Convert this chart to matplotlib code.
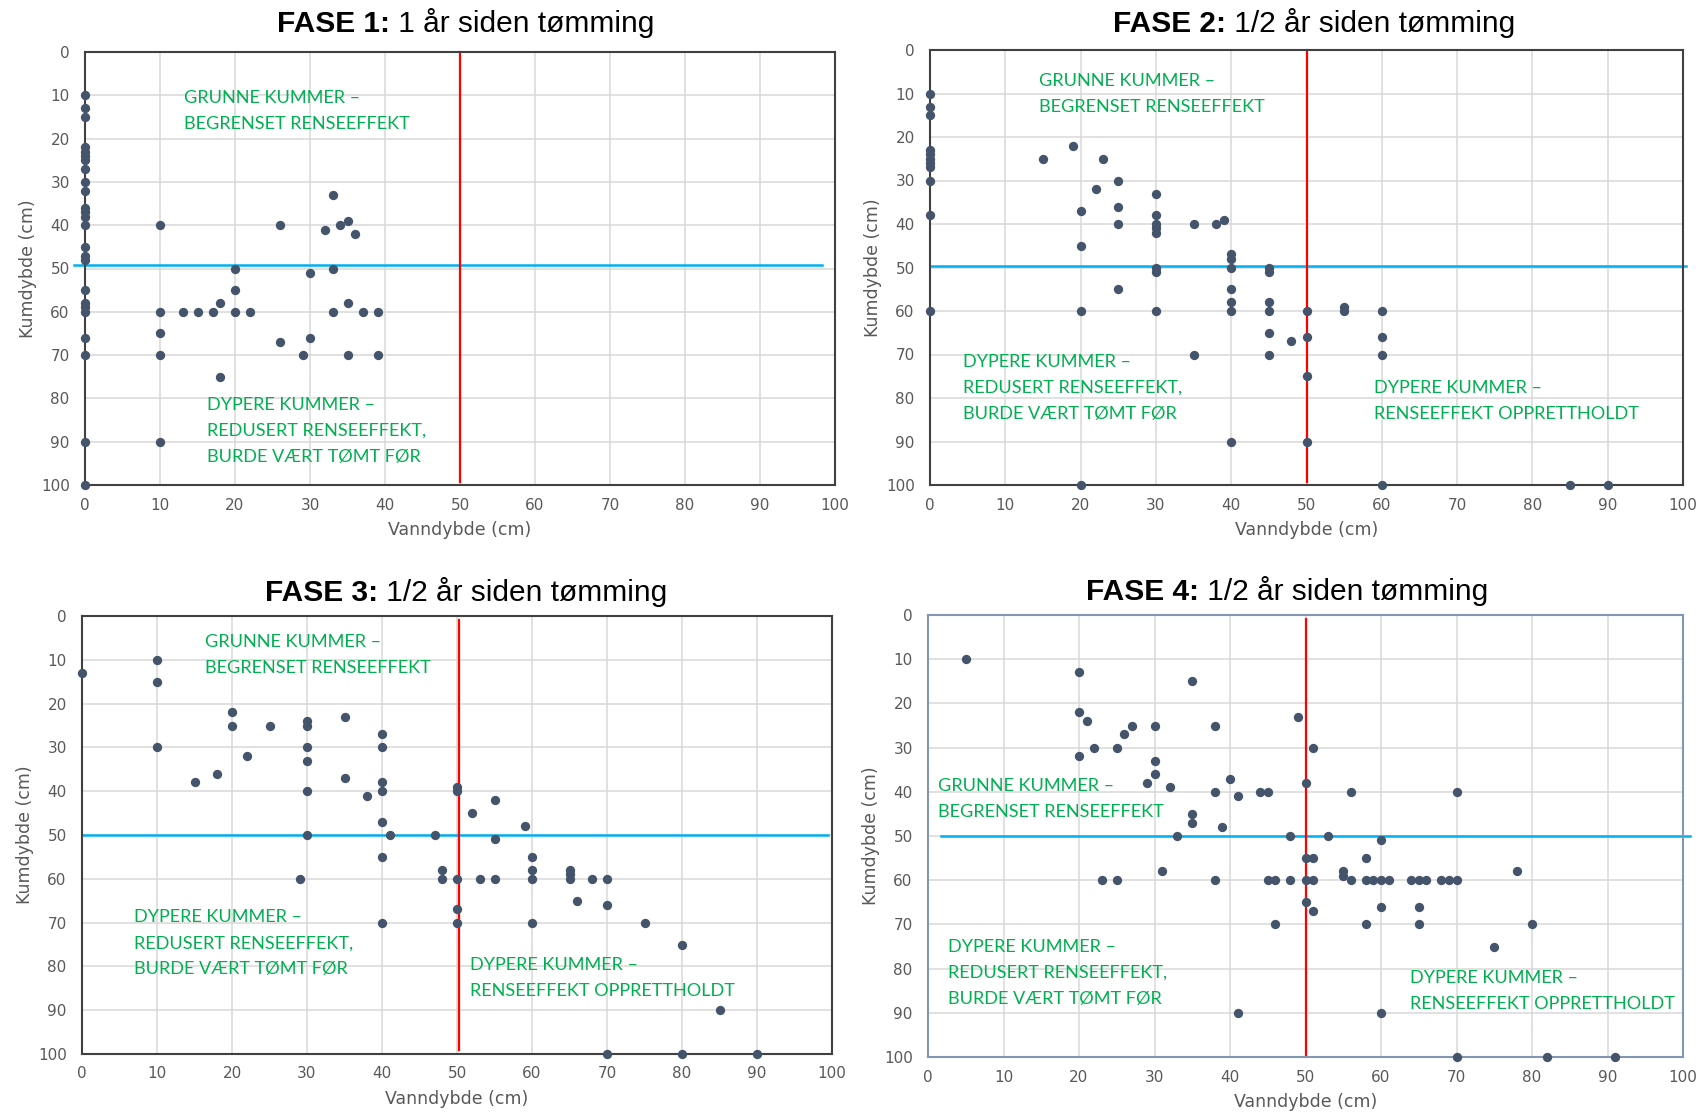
import matplotlib
matplotlib.use("Agg")
import matplotlib.pyplot as plt
from matplotlib.transforms import offset_copy

# ---------------- data ----------------
fase1_x = [0]*25 + [10, 10, 10, 10, 10, 13, 15, 17, 18, 18, 20, 20, 20, 22,
                    26, 26, 29, 30, 30, 32, 33, 33, 33, 34, 35, 35, 35, 36, 37, 39, 39]
fase1_y = [10, 13, 15, 22, 23, 24, 25, 27, 30, 32, 36, 37, 38, 40, 45, 47, 48, 55, 58, 59, 60, 66, 70, 90, 100,
           40, 60, 65, 70, 90, 60, 60, 60, 58, 75, 50, 55, 60, 60,
           40, 67, 70, 51, 66, 41, 33, 50, 60, 40, 39, 58, 70, 42, 60, 60, 70]

fase2_x = [0]*11 + [15, 19, 20, 20, 20, 20, 22, 23, 25, 25, 25, 25,
                    30, 30, 30, 30, 30, 30, 30, 30, 35, 35, 38, 39,
                    40, 40, 40, 40, 40, 40, 40, 45, 45, 45, 45, 45, 45,
                    48, 50, 50, 50, 50, 55, 55, 60, 60, 60, 60, 85, 90]
fase2_y = [10, 13, 15, 23, 24, 25, 26, 27, 30, 38, 60,
           25, 22, 37, 45, 60, 100, 32, 25, 30, 36, 40, 55,
           33, 38, 40, 41, 42, 50, 51, 60, 40, 70, 40, 39,
           47, 48, 50, 55, 58, 60, 90, 50, 51, 58, 60, 65, 70,
           67, 60, 66, 75, 90, 59, 60, 60, 66, 70, 100, 100, 100]

fase3_x = [0, 10, 10, 10, 15, 18, 20, 20, 22, 25, 29,
           30, 30, 30, 30, 30, 30, 35, 35, 38,
           40, 40, 40, 40, 40, 40, 40, 41, 47, 48, 48,
           50, 50, 50, 50, 50, 52, 53, 55, 55, 55, 59,
           60, 60, 60, 60, 65, 65, 65, 66, 68, 70, 70, 70,
           75, 80, 80, 85, 90]
fase3_y = [13, 10, 15, 30, 38, 36, 22, 25, 32, 25, 60,
           24, 25, 30, 33, 40, 50, 23, 37, 41,
           27, 30, 38, 40, 47, 55, 70, 50, 50, 58, 60,
           39, 40, 60, 67, 70, 45, 60, 42, 51, 60, 48,
           55, 58, 60, 70, 58, 59, 60, 65, 60, 60, 66, 100,
           70, 75, 100, 90, 100]

fase4_x = [5, 20, 20, 20, 21, 22, 23, 25, 25, 26, 27, 29,
           30, 30, 30, 31, 32, 33, 35, 35, 35, 38, 38, 38,
           39, 40, 41, 41, 44, 45, 45, 46, 46, 48, 48, 49,
           50, 50, 50, 50, 51, 51, 51, 51, 53, 55, 55, 56, 56,
           58, 58, 58, 59, 60, 60, 60, 60, 61, 64, 65, 65, 65, 66,
           68, 69, 70, 70, 70, 75, 78, 80, 82, 91]
fase4_y = [10, 13, 22, 32, 24, 30, 60, 30, 60, 27, 25, 38,
           25, 33, 36, 58, 39, 50, 15, 45, 47, 25, 40, 60,
           48, 37, 41, 90, 40, 40, 60, 60, 70, 50, 60, 23,
           38, 55, 60, 65, 30, 55, 60, 67, 50, 58, 59, 40, 60,
           55, 60, 70, 60, 51, 60, 66, 90, 60, 60, 60, 66, 70, 60,
           60, 60, 40, 60, 100, 75, 58, 70, 100, 100]

titles_bold = ["FASE 1:", "FASE 2:", "FASE 3:", "FASE 4:"]
titles_rest = ["1 år siden tømming", "1/2 år siden tømming",
               "1/2 år siden tømming", "1/2 år siden tømming"]

txt_grunne = ["GRUNNE KUMMER –", "BEGRENSET RENSEEFFEKT"]
txt_redusert = ["DYPERE KUMMER –", "REDUSERT RENSEEFFEKT,", "BURDE VÆRT TØMT FØR"]
txt_oppr = ["DYPERE KUMMER –", "RENSEEFFEKT OPPRETTHOLDT"]

ticks = [0, 10, 20, 30, 40, 50, 60, 70, 80, 90, 100]

# reference lines (blue horizontal: y, x0, x1 ; red vertical: x, y0, y1)
blue_lines = [(49.3, -1.5, 98.3), (49.7, 0, 100.4), (50, 0, 99.5), (49.9, 1.7, 100.9)]
red_lines = [(50, 0, 99.2), (50, 0, 99.2), (50.2, 1, 99), (50, 0.8, 100)]

# annotation positions (x, baseline of first line)
ann = [
    [(txt_grunne, 13.2, 11.8), (txt_redusert, 16.3, 82.7)],
    [(txt_grunne, 14.5, 8.3), (txt_redusert, 4.4, 72.9), (txt_oppr, 59, 78.8)],
    [(txt_grunne, 16.4, 7.1), (txt_redusert, 6.9, 69.9), (txt_oppr, 51.7, 80.8)],
    [(txt_grunne, 1.3, 39.8), (txt_redusert, 2.7, 76.2), (txt_oppr, 63.8, 83.3)],
]

# ---------------- figure ----------------
W, H = 1703, 1117
fig = plt.figure(figsize=(W/100, H/100), dpi=100)
renderer = fig.canvas.get_renderer()

boxes = [(85, 52, 750, 433), (930, 50, 753, 435), (82, 616, 750, 438), (928, 615, 755, 442)]
title_pos = [(466, 32), (1314, 32), (466, 601), (1287, 600)]
spine_colors = ['#404040', '#404040', '#404040', '#8497B0']
data = [(fase1_x, fase1_y), (fase2_x, fase2_y), (fase3_x, fase3_y), (fase4_x, fase4_y)]

dot_color = '#44546A'
green = '#00B050'
tick_color = '#595959'
line_px = 26  # green text line spacing in pixels

for i in range(4):
    l, t, w, h = boxes[i]
    ax = fig.add_axes([l/W, 1 - (t+h)/H, w/W, h/H])
    ax.set_xlim(0, 100)
    ax.set_ylim(100, 0)
    ax.set_xticks(ticks)
    ax.set_yticks(ticks)
    ax.grid(True, color='#D9D9D9', linewidth=1.1)
    ax.set_axisbelow(True)
    ax.tick_params(length=0, labelsize=11, labelcolor=tick_color)
    ax.tick_params(axis='x', pad=9)
    ax.tick_params(axis='y', pad=11)
    for s in ax.spines.values():
        s.set_color(spine_colors[i])
        s.set_linewidth(1.5)
    ax.set_xlabel("Vanndybde (cm)", fontsize=12.5, color=tick_color, labelpad=6)
    ax.set_ylabel("Kumdybde (cm)", fontsize=12.5, color=tick_color, labelpad=3)

    by, bx0, bx1 = blue_lines[i]
    ax.plot([bx0, bx1], [by, by], color='#00B0F0', linewidth=1.8, clip_on=False, zorder=2)
    rx, ry0, ry1 = red_lines[i]
    ax.plot([rx, rx], [ry0, ry1], color='#FF0000', linewidth=1.6, clip_on=False, zorder=2)

    xs, ys = data[i]
    ax.scatter(xs, ys, s=45, color=dot_color, zorder=3, clip_on=False, linewidths=0)

    for lines, x, y in ann[i]:
        for k, ln in enumerate(lines):
            tr = offset_copy(ax.transData, fig=fig, x=0, y=-k*line_px*0.72, units='points')
            ax.text(x, y, ln, color=green, fontsize=13.1, family='Lato',
                    ha='left', va='baseline', zorder=4, transform=tr)

    # title: bold part + regular part, centred together
    tx, ty = title_pos[i]
    tb = fig.text(0, 1 - ty/H, titles_bold[i], fontsize=21.5, family='Liberation Sans',
                  fontweight='bold', ha='left', va='baseline')
    tr_ = fig.text(0, 1 - ty/H, " " + titles_rest[i], fontsize=21.5, family='Liberation Sans',
                   ha='left', va='baseline')
    wb = tb.get_window_extent(renderer).width
    wr = tr_.get_window_extent(renderer).width
    x0 = tx - (wb + wr) / 2
    tb.set_x(x0 / W)
    tr_.set_x((x0 + wb) / W)

fig.savefig("out.png", dpi=100)
